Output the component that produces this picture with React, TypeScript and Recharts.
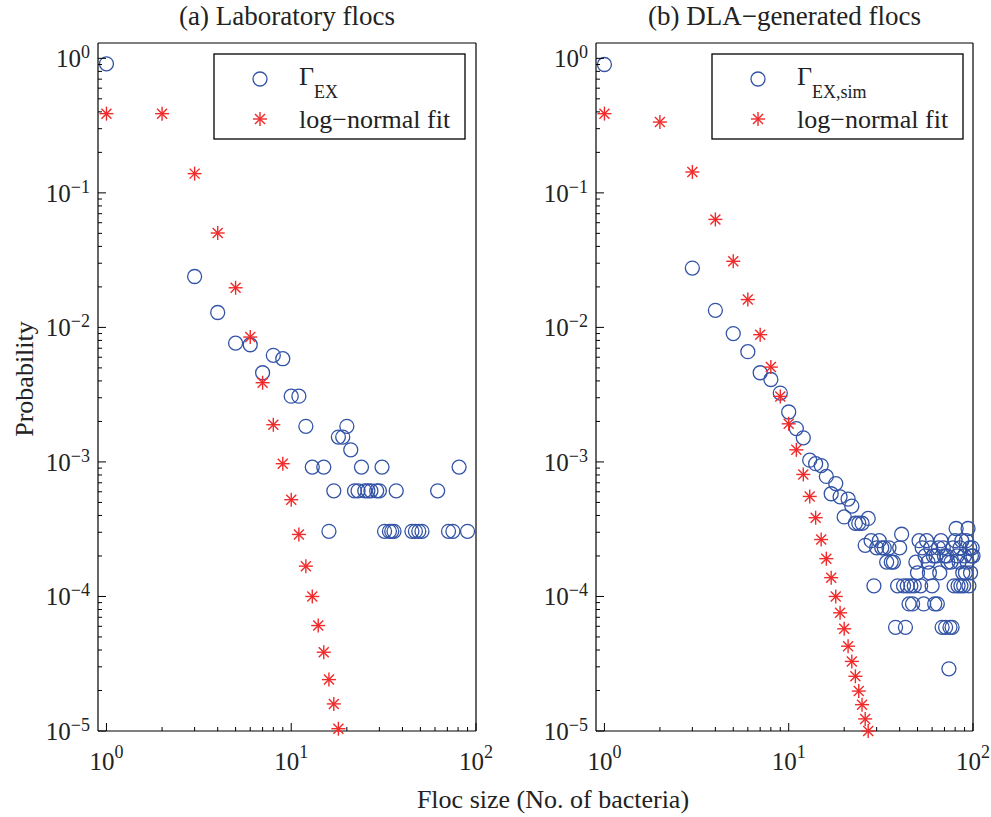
import { ScatterChart, Scatter, XAxis, YAxis } from "recharts";

// (a) laboratory flocs
const labSizes = [1, 3, 4, 5, 6, 7, 8, 9, 10, 11, 12, 13, 15, 16, 17, 18, 19, 20, 21, 22, 23, 24, 25, 26, 27, 29, 30, 31, 32, 34, 35, 36, 37, 45, 47, 49, 51, 62, 71, 75, 81, 90];
const labProb = [0.91, 0.0239, 0.0129, 0.00764, 0.00743, 0.0046, 0.0062, 0.00585, 0.00308, 0.00308, 0.00184, 0.000915, 0.000915, 0.000305, 0.00061, 0.00153, 0.00153, 0.00184, 0.00123, 0.00061, 0.00061, 0.000915, 0.00061, 0.00061, 0.00061, 0.00061, 0.00061, 0.000915, 0.000305, 0.000305, 0.000305, 0.000305, 0.00061, 0.000305, 0.000305, 0.000305, 0.000305, 0.00061, 0.000305, 0.000305, 0.000915, 0.000305];
const labFitSizes = [1, 2, 3, 4, 5, 6, 7, 8, 9, 10, 11, 12, 13, 14, 15, 16, 17, 18];
const labFitProb = [0.388, 0.388, 0.139, 0.0503, 0.0197, 0.00848, 0.00388, 0.00189, 0.00097, 0.000524, 0.000289, 0.000168, 0.0001, 0.0000608, 0.0000385, 0.0000241, 0.0000159, 0.0000104];

// (b) DLA-generated flocs
const simSizes = [1, 3, 4, 5, 6, 7, 8, 9, 10, 11, 12, 13, 14, 15, 16, 17, 18, 19, 20, 21, 22, 23, 24, 25, 26, 27, 28, 29, 30, 31, 32, 33, 34, 35, 36, 37, 38, 39, 40, 41, 42, 43, 44, 45, 46, 47, 48, 49, 50, 51, 52, 53, 54, 55, 56, 57, 58, 59, 60, 61, 62, 63, 64, 65, 66, 67, 68, 69, 70, 71, 72, 73, 74, 75, 76, 77, 78, 79, 80, 81, 82, 83, 84, 85, 86, 87, 88, 89, 90, 91, 92, 93, 94, 95, 96, 97, 98, 99, 100];
const simProb = [0.9, 0.0276, 0.0134, 0.009, 0.0066, 0.0046, 0.0041, 0.00325, 0.00235, 0.00177, 0.00151, 0.00103, 0.00097, 0.00094, 0.00078, 0.00058, 0.00069, 0.00055, 0.00039, 0.00053, 0.00047, 0.00035, 0.00035, 0.00035, 0.00024, 0.00038, 0.00026, 0.00012, 0.00023, 0.00026, 0.00023, 0.00023, 0.00018, 0.00023, 0.00018, 0.00018, 0.000059, 0.00012, 0.00023, 0.00029, 0.00012, 0.000059, 0.00012, 0.000088, 0.00012, 0.000088, 0.00012, 0.00018, 0.00015, 0.00026, 0.00012, 0.00023, 0.000088, 0.0002, 0.00026, 0.00018, 0.00015, 0.00023, 0.00012, 0.0002, 0.000088, 0.0002, 0.000088, 0.00023, 0.00015, 0.00026, 0.000059, 0.00023, 0.0002, 0.000059, 0.0002, 0.00018, 0.000029, 0.000059, 0.00018, 0.000059, 0.00023, 0.00012, 0.00026, 0.00032, 0.0002, 0.00012, 0.00018, 0.00023, 0.00012, 0.00026, 0.00015, 0.00012, 0.0002, 0.00015, 0.00026, 0.00018, 0.00032, 0.00012, 0.00023, 0.00015, 0.0002, 0.00023, 0.0002];
const simFitSizes = [1, 2, 3, 4, 5, 6, 7, 8, 9, 10, 11, 12, 13, 14, 15, 16, 17, 18, 19, 20, 21, 22, 23, 24, 25, 26, 27];
const simFitProb = [0.388, 0.336, 0.143, 0.0635, 0.031, 0.0161, 0.00883, 0.00507, 0.00307, 0.00192, 0.00123, 0.000807, 0.000554, 0.000385, 0.000265, 0.000191, 0.000138, 0.0001, 0.0000756, 0.0000575, 0.0000427, 0.0000329, 0.0000255, 0.0000198, 0.0000157, 0.0000123, 0.00001];

const xTicks = [1, 2, 3, 4, 5, 6, 7, 8, 9, 10, 20, 30, 40, 50, 60, 70, 80, 90, 100];
const yDecades = [1e-5, 1e-4, 1e-3, 1e-2, 1e-1];
const yMinor = [1, 2, 3, 4, 5, 6, 7, 8, 9];
const yTicks = [...yDecades.flatMap((d) => yMinor.map((m) => m * d)), 1];

const BLUE = "#3353a6";
const RED = "#f02a2a";
const FONT = "'Liberation Serif', 'Times New Roman', serif";

const toPoints = (xs: number[], ys: number[]) => xs.map((x, i) => ({ x, y: ys[i] }));

const isMajor = (v: number) => Math.abs(Math.log10(v) - Math.round(Math.log10(v))) < 1e-6;
const expText = (v: number) => {
  const e = Math.round(Math.log10(v));
  return e < 0 ? "\u2212" + -e : String(e);
};

function Ring(props: any) {
  const { cx, cy } = props;
  return <circle cx={cx} cy={cy} r={7} fill="none" stroke={BLUE} strokeWidth={1.3} />;
}

function Star(props: any) {
  const { cx, cy } = props;
  const s = 7;
  const d = 5;
  return (
    <g stroke={RED} strokeWidth={1.4}>
      <line x1={cx - s} y1={cy} x2={cx + s} y2={cy} />
      <line x1={cx} y1={cy - s} x2={cx} y2={cy + s} />
      <line x1={cx - d} y1={cy - d} x2={cx + d} y2={cy + d} />
      <line x1={cx - d} y1={cy + d} x2={cx + d} y2={cy - d} />
    </g>
  );
}

function BottomTick(props: any) {
  const { x, y, payload } = props;
  const major = isMajor(payload.value);
  return (
    <g>
      <line x1={x} y1={y} x2={x} y2={y - (major ? 8 : 4)} stroke="#000" strokeWidth={1} />
      {major && (
        <text x={x} y={y + 39} textAnchor="middle" fontSize={25} fontFamily={FONT} fill="#222">
          10<tspan dy={-12} fontSize={18}>{expText(payload.value)}</tspan>
        </text>
      )}
    </g>
  );
}

function TopTick(props: any) {
  const { x, y, payload } = props;
  const major = isMajor(payload.value);
  return <line x1={x} y1={y} x2={x} y2={y + (major ? 8 : 4)} stroke="#000" strokeWidth={1} />;
}

function LeftTick(props: any) {
  const { x, y, payload } = props;
  const major = isMajor(payload.value);
  return (
    <g>
      <line x1={x} y1={y} x2={x + (major ? 8 : 4)} y2={y} stroke="#000" strokeWidth={1} />
      {major && (
        <text x={x - 8} y={y + 9} textAnchor="end" fontSize={25} fontFamily={FONT} fill="#222">
          10<tspan dy={-9} fontSize={18}>{expText(payload.value)}</tspan>
        </text>
      )}
    </g>
  );
}

function RightTick(props: any) {
  const { x, y, payload } = props;
  const major = isMajor(payload.value);
  return <line x1={x} y1={y} x2={x - (major ? 8 : 4)} y2={y} stroke="#000" strokeWidth={1} />;
}

// plot box: top 43, bottom 731; axis sizes are kept > 0 so recharts draws them
function Panel({ circles, stars, left, width, plotLeft, plotRight }: any) {
  const axisLine = { stroke: "#000", strokeWidth: 1.2 };
  const common = { type: "number" as const, scale: "log" as const, tickLine: false, tickSize: 0, tickMargin: 0, interval: 0 as const };
  const margin = { top: 42, bottom: 46, left: plotLeft - 60, right: width - plotRight - 1 };
  return (
    <div style={{ position: "absolute", left, top: 0 }}>
      <ScatterChart width={width} height={817} margin={margin}>
        <XAxis {...common} xAxisId="b" dataKey="x" domain={[0.9, 100]} ticks={xTicks} height={40} axisLine={axisLine} tick={<BottomTick />} />
        <XAxis {...common} xAxisId="t" orientation="top" dataKey="x" domain={[0.9, 100]} ticks={xTicks} height={1} axisLine={axisLine} tick={<TopTick />} />
        <YAxis {...common} yAxisId="l" dataKey="y" domain={[1e-5, 1.3]} ticks={yTicks} width={60} axisLine={axisLine} tick={<LeftTick />} />
        <YAxis {...common} yAxisId="r" orientation="right" dataKey="y" domain={[1e-5, 1.3]} ticks={yTicks} width={1} axisLine={axisLine} tick={<RightTick />} />
        <Scatter xAxisId="b" yAxisId="l" data={circles} shape={<Ring />} isAnimationActive={false} />
        <Scatter xAxisId="b" yAxisId="l" data={stars} shape={<Star />} isAnimationActive={false} />
      </ScatterChart>
    </div>
  );
}

function LegendBox({ x, sub }: { x: number; sub: string }) {
  return (
    <g fontFamily={FONT} fill="#222">
      <rect x={x} y={54} width={251} height={85} fill="#fff" stroke="#000" strokeWidth={1.3} />
      <Ring cx={x + 46} cy={79} />
      <Star cx={x + 46} cy={119} />
      <text x={x + 85} y={85} fontSize={26}>
        Γ<tspan dy={13} fontSize={18}>{sub}</tspan>
      </text>
      <text x={x + 85} y={128} fontSize={26}>log−normal fit</text>
    </g>
  );
}

export default function App() {
  return (
    <div style={{ position: "absolute", left: 0, top: 0, width: 991, height: 817, background: "#fff", fontFamily: FONT }}>
      <Panel circles={toPoints(labSizes, labProb)} stars={toPoints(labFitSizes, labFitProb)} left={0} width={500} plotLeft={98} plotRight={476} />
      <Panel circles={toPoints(simSizes, simProb)} stars={toPoints(simFitSizes, simFitProb)} left={500} width={491} plotLeft={96} plotRight={473} />
      <svg width={991} height={817} style={{ position: "absolute", left: 0, top: 0, pointerEvents: "none" }}>
        <g fontFamily={FONT} fill="#222">
          <text x={287} y={25} textAnchor="middle" fontSize={27}>(a) Laboratory flocs</text>
          <text x={784.5} y={25} textAnchor="middle" fontSize={27}>(b) DLA−generated flocs</text>
          <text x={553} y={808} textAnchor="middle" fontSize={26}>Floc size (No. of bacteria)</text>
          <text transform="translate(33,379) rotate(-90)" textAnchor="middle" fontSize={26}>Probability</text>
        </g>
        <LegendBox x={214} sub="EX" />
        <LegendBox x={712} sub="EX,sim" />
      </svg>
    </div>
  );
}
